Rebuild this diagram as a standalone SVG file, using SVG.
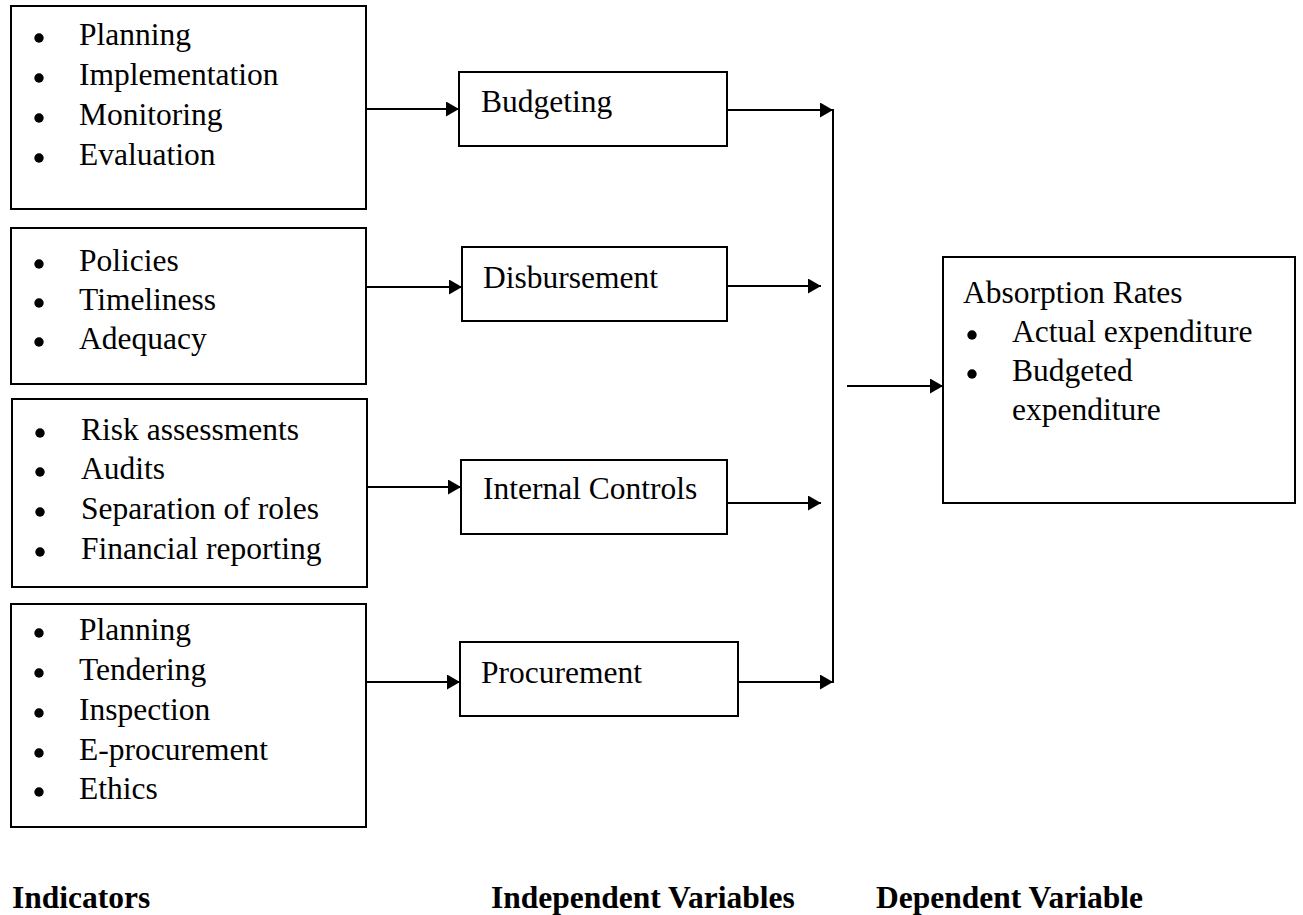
<svg xmlns="http://www.w3.org/2000/svg" width="1303" height="915" viewBox="0 0 1303 915">
<style>
.box{fill:#fff;stroke:#000;stroke-width:2}
.t{font-family:"Liberation Serif","Times New Roman",serif;font-size:31.5px;fill:#000}
.b{font-family:"Liberation Serif","Times New Roman",serif;font-size:31.5px;font-weight:bold;fill:#000}
.dot{fill:#000}
.c{stroke:#000;stroke-width:2;fill:none}
</style>
<defs>
<marker id="ah" markerUnits="userSpaceOnUse" markerWidth="14" markerHeight="16" refX="13" refY="7.5" orient="auto">
<path d="M0,0 L13,7.5 L0,15 z" fill="#000"/>
</marker>
</defs>
<rect width="1303" height="915" fill="#fff"/>
<g id="ind-budgeting">
<rect class="box" x="11" y="6" width="355" height="203"/>
<circle class="dot" cx="39" cy="38" r="4.7"/><text class="t" x="79" y="45">Planning</text>
<circle class="dot" cx="39" cy="78" r="4.7"/><text class="t" x="79" y="85">Implementation</text>
<circle class="dot" cx="39" cy="118" r="4.7"/><text class="t" x="79" y="125">Monitoring</text>
<circle class="dot" cx="39" cy="158" r="4.7"/><text class="t" x="79" y="165">Evaluation</text>
</g>
<g id="ind-disbursement">
<rect class="box" x="11" y="228" width="355" height="156"/>
<circle class="dot" cx="39" cy="264" r="4.7"/><text class="t" x="79" y="271">Policies</text>
<circle class="dot" cx="39" cy="303" r="4.7"/><text class="t" x="79" y="310">Timeliness</text>
<circle class="dot" cx="39" cy="342" r="4.7"/><text class="t" x="79" y="349">Adequacy</text>
</g>
<g id="ind-internal">
<rect class="box" x="12" y="399" width="355" height="188"/>
<circle class="dot" cx="40" cy="433" r="4.7"/><text class="t" x="81" y="440">Risk assessments</text>
<circle class="dot" cx="40" cy="472" r="4.7"/><text class="t" x="81" y="479">Audits</text>
<circle class="dot" cx="40" cy="512" r="4.7"/><text class="t" x="81" y="519">Separation of roles</text>
<circle class="dot" cx="40" cy="552" r="4.7"/><text class="t" x="81" y="559">Financial reporting</text>
</g>
<g id="ind-procurement">
<rect class="box" x="11" y="604" width="355" height="223"/>
<circle class="dot" cx="39" cy="633" r="4.7"/><text class="t" x="79" y="640">Planning</text>
<circle class="dot" cx="39" cy="673" r="4.7"/><text class="t" x="79" y="680">Tendering</text>
<circle class="dot" cx="39" cy="713" r="4.7"/><text class="t" x="79" y="720">Inspection</text>
<circle class="dot" cx="39" cy="753" r="4.7"/><text class="t" x="79" y="760">E-procurement</text>
<circle class="dot" cx="39" cy="792" r="4.7"/><text class="t" x="79" y="799">Ethics</text>
</g>
<g id="budgeting">
<rect class="box" x="459" y="72" width="268" height="74"/>
<text class="t" x="481" y="112">Budgeting</text>
</g>
<g id="disbursement">
<rect class="box" x="462" y="247" width="265" height="74"/>
<text class="t" x="483" y="288">Disbursement</text>
</g>
<g id="internal-controls">
<rect class="box" x="461" y="460" width="266" height="74"/>
<text class="t" x="483" y="499">Internal Controls</text>
</g>
<g id="procurement">
<rect class="box" x="460" y="642" width="278" height="74"/>
<text class="t" x="481" y="683">Procurement</text>
</g>
<g id="absorption">
<rect class="box" x="943" y="257" width="352" height="246"/>
<text class="t" x="963" y="303">Absorption Rates</text>
<circle class="dot" cx="972" cy="335" r="4.7"/><text class="t" x="1012" y="342">Actual expenditure</text>
<circle class="dot" cx="972" cy="374" r="4.7"/><text class="t" x="1012" y="381">Budgeted</text>
<text class="t" x="1012" y="420">expenditure</text>
</g>
<g id="connectors">
<line class="c" x1="366" y1="109" x2="459" y2="109" marker-end="url(#ah)"/>
<line class="c" x1="366" y1="287" x2="462" y2="287" marker-end="url(#ah)"/>
<line class="c" x1="367" y1="487" x2="461" y2="487" marker-end="url(#ah)"/>
<line class="c" x1="366" y1="682" x2="460" y2="682" marker-end="url(#ah)"/>
<line class="c" x1="727" y1="110" x2="833" y2="110" marker-end="url(#ah)"/>
<line class="c" x1="727" y1="286" x2="821" y2="286" marker-end="url(#ah)"/>
<line class="c" x1="727" y1="503" x2="821" y2="503" marker-end="url(#ah)"/>
<line class="c" x1="738" y1="682" x2="833" y2="682" marker-end="url(#ah)"/>
<line class="c" x1="833" y1="109" x2="833" y2="683"/>
<line class="c" x1="847" y1="386" x2="943" y2="386" marker-end="url(#ah)"/>
</g>
<g id="labels">
<text class="b" x="12" y="908">Indicators</text>
<text class="b" x="491" y="908">Independent Variables</text>
<text class="b" x="876" y="908">Dependent Variable</text>
</g>
</svg>
